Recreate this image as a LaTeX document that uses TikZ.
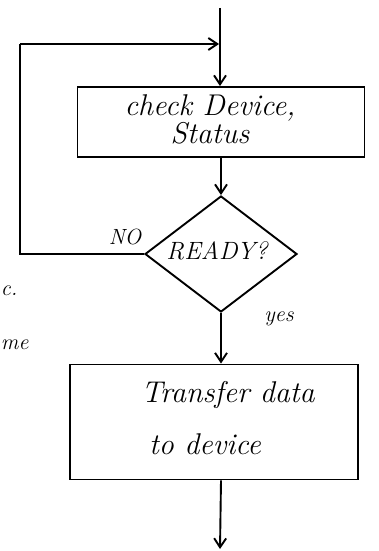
\documentclass[tikz,border=0pt]{standalone}
\usepackage{fontspec}
\usetikzlibrary{arrows.meta,shapes.geometric}
\begin{document}
\begin{tikzpicture}[x=1pt,y=-1pt,
  line width=1.9pt,
  flow/.style={-{Straight Barb[length=9pt,width=12pt,line width=1.9pt]}},
  procbox/.style={draw,rectangle,inner sep=0pt},
  decision/.style={draw,diamond,inner sep=0pt,minimum width=152pt,minimum height=116pt},
  hand/.style={font=\fontsize{30}{25}\selectfont\itshape},
  mid/.style={font=\fontsize{25}{28}\selectfont\itshape},
  lbl/.style={font=\fontsize{22}{24}\selectfont\itshape}]
\useasboundingbox (0,0) rectangle (378,551);

% process and decision shapes
\node[procbox,minimum width=287pt,minimum height=70pt] (check) at (221,122) {};
\node[hand,align=center] (checktxt) at (210,119) {check Device,\\Status};
\node[decision] (ready) at (221,254) {};
\node[mid] (readytxt) at (217,251) {READY?};
\node[procbox,minimum width=288pt,minimum height=115pt] (xfer) at (214,422) {};
\node[hand] (xfer1) at (228,395) {Transfer data};
\node[hand] (xfer2) at (205,444) {to device};

% branch labels
\node[lbl] (nolbl) at (125,237) {NO};
\node[lbl] (yeslbl) at (279,319) {yes};

% fragments at the left edge
\node[lbl,anchor=west,inner sep=0pt] (frag1) at (0,291) {c.};
\node[lbl,anchor=west,inner sep=0pt] (frag2) at (0,345) {me};

% connector end points
\coordinate (entry) at (220,8);
\coordinate (joint) at (219,44);
\coordinate (exit) at (220,549);
\coordinate (looptop) at (20,44);
\coordinate (loopbot) at (looptop |- ready.west);

% connectors
\draw[flow] (entry) -- (entry |- check.north);
\draw[flow] (check.south) -- (ready.north);
\draw[flow] (ready.south) -- (ready.south |- xfer.north);
\draw[flow] (xfer.south -| ready.south) -- (exit);
\draw (ready.west) -- (loopbot) -- (looptop);
\draw[flow] (looptop) -- (joint);
\end{tikzpicture}
\end{document}
